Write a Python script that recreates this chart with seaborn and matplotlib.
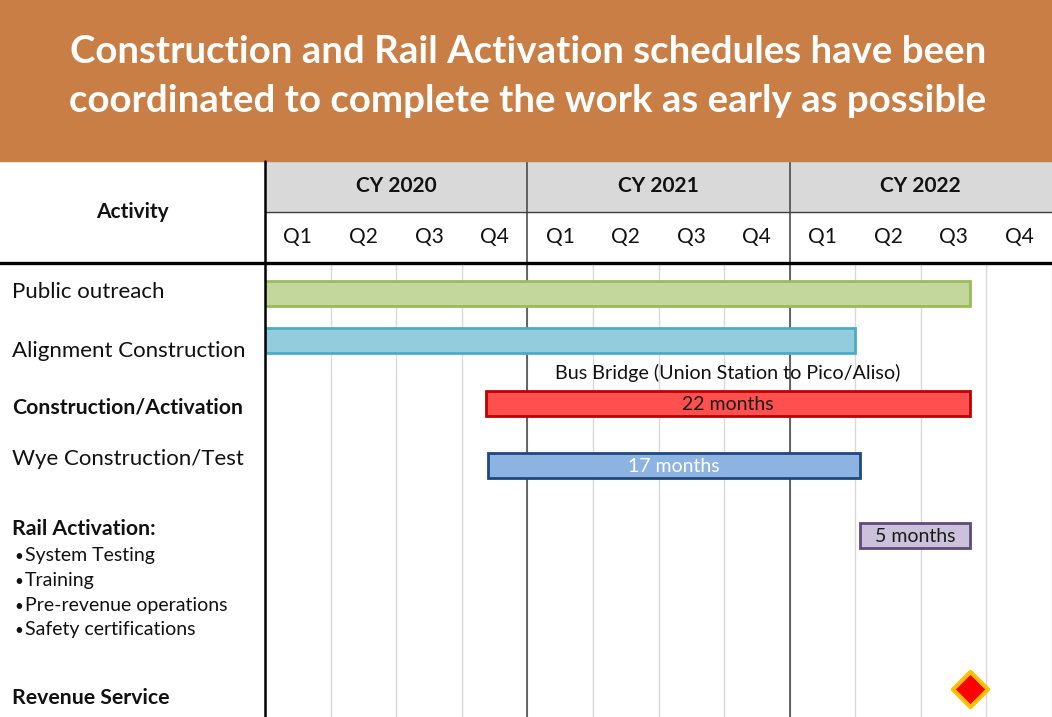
import matplotlib
matplotlib.use("Agg")
import matplotlib.pyplot as plt
import seaborn as sns
import pandas as pd

# ---- data -------------------------------------------------------------
title_lines = [
    "Construction and Rail Activation schedules have been",
    "coordinated to complete the work as early as possible",
]
years = ["CY 2020", "CY 2021", "CY 2022"]
quarters = ["Q1", "Q2", "Q3", "Q4"]

activities = [
    "Public outreach",
    "Alignment Construction",
    "Construction/Activation",
    "Wye Construction/Test",
    "Rail Activation:",
]
start_month = [0.0, 0.0, 10.1, 10.2, 27.2]
end_month = [32.25, 27.0, 32.25, 27.2, 32.25]
bar_labels = ["", "", "22 months", "17 months", "5 months"]
bus_note = "Bus Bridge (Union Station to Pico/Aliso)"
rail_bullets = ["System Testing", "Training", "Pre-revenue operations", "Safety certifications"]
milestone = "Revenue Service"
milestone_month = [32.25]

# ---- styling / layout ---------------------------------------------------
fills = ["#C3D69B", "#93CDDD", "#FF5050", "#8DB3E2", "#CCC1DA"]
edges = ["#9BBB59", "#4BACC6", "#C00000", "#1F497D", "#604A7B"]
label_colors = ["k", "k", "#1a1a1a", "white", "#1a1a1a"]
bold_rows = [False, False, True, False, True]
row_y = [293.5, 341, 403.5, 465.5, 536]      # bar centres, px from top
label_base = [298, 357, 413, 465, 535]      # label baselines, px from top
bullet_base = [561, 586, 611, 635]
milestone_y = 689
milestone_base = 704

W, H = 1052, 717
X0, HDR_TOP, HDR_MID, BODY_TOP = 265, 161, 212, 263
BANNER = "#C97E45"
FONT = ["Lato", "DejaVu Sans"]


def fx(x):
    return x / W


def fy(y):
    return 1 - y / H


sns.set_theme(style="white")
plt.rcParams["font.family"] = FONT

fig = plt.figure(figsize=(W / 100, H / 100), dpi=100)

# banner
fig.patches.append(plt.Rectangle((0, fy(HDR_TOP)), 1, 1 - fy(HDR_TOP),
                                 transform=fig.transFigure, color=BANNER, zorder=0))
for line, base in zip(title_lines, [63, 112]):
    fig.text(fx(528), fy(base), line, ha="center", va="baseline", color="white",
             fontsize=27.6, fontweight="bold")

# header axes (years + quarters)
hdr = fig.add_axes([fx(X0), fy(BODY_TOP), 1 - fx(X0), fy(HDR_TOP) - fy(BODY_TOP)])
hdr.set_xlim(0, 36)
hdr.set_ylim(1, 0)
hdr.axis("off")
mid = (HDR_MID - HDR_TOP) / (BODY_TOP - HDR_TOP)
hdr.axhspan(0, mid, color="#D9D9D9", zorder=0)
hdr.axhline(mid, color="#404040", lw=1.0)
for i, yr in enumerate(years):
    hdr.text(12 * i + 6, mid / 2, yr, ha="center", va="center",
             fontsize=15, fontweight="bold", color="#111111")
    for j, q in enumerate(quarters):
        hdr.text(12 * i + 3 * j + 1.5, (1 + mid) / 2, q, ha="center", va="center",
                 fontsize=15, color="#111111")
for m in (12, 24):
    hdr.axvline(m, color="#404040", lw=1.1)

fig.text(fx(132), fy(212), "Activity", ha="center", va="center",
         fontsize=15, fontweight="bold", color="#111111")

# body axes
ax = fig.add_axes([fx(X0), 0, 1 - fx(X0), fy(BODY_TOP)])
ax.set_xlim(0, 36)
ax.set_ylim(H, BODY_TOP)
for s in ax.spines.values():
    s.set_visible(False)
ax.set_xticks(range(0, 37, 3))
ax.set_yticks([])
ax.tick_params(axis="x", length=0, labelbottom=False)
ax.grid(axis="x", color="#D9D9D9", lw=1.0)
ax.set_axisbelow(True)
for m in (12, 24):
    ax.axvline(m, color="#404040", lw=1.1, zorder=1)

df = pd.DataFrame({"activity": activities, "start": start_month, "end": end_month,
                   "label": bar_labels})
df["dur"] = df["end"] - df["start"]
ax.barh(row_y, df["dur"], left=df["start"], height=25, color=fills,
        edgecolor=edges, linewidth=2.0, zorder=3)
for y, (_, r), c in zip(row_y, df.iterrows(), label_colors):
    if r["label"]:
        ax.text(r["start"] + r["dur"] / 2, y + 1, r["label"], ha="center", va="center",
                fontsize=14, color=c, zorder=4)
bus = df.iloc[2]
ax.text(bus["start"] + bus["dur"] / 2, row_y[2] - 21, bus_note, ha="center",
        va="bottom", fontsize=14.2, color="#111111", zorder=4)

ms = pd.DataFrame({"month": milestone_month, "y": [milestone_y]})
sns.scatterplot(data=ms, x="month", y="y", marker="D", s=320, color="#FF0000",
                edgecolor="#FFC000", linewidth=3, ax=ax, zorder=5, legend=False)
ax.set_xlabel("")
ax.set_ylabel("")

# left labels
for name, base, b in zip(activities, label_base, bold_rows):
    fig.text(fx(12), fy(base), name, ha="left", va="baseline",
             fontsize=15.3 if b else 16,
             fontweight="bold" if b else "normal", color="#111111")
for item, base in zip(rail_bullets, bullet_base):
    fig.text(fx(14), fy(base), "\u2022", ha="left", va="baseline", fontsize=11, color="#111111")
    fig.text(fx(25), fy(base), item, ha="left", va="baseline", fontsize=14, color="#111111")
fig.text(fx(12), fy(milestone_base), milestone, ha="left", va="baseline", fontsize=15.3,
         fontweight="bold", color="#111111")

# frame lines
fig.add_artist(plt.Line2D([0, 1], [fy(BODY_TOP)] * 2, transform=fig.transFigure,
                          color="black", lw=2.4, zorder=10))
fig.add_artist(plt.Line2D([fx(X0)] * 2, [0, fy(HDR_TOP)], transform=fig.transFigure,
                          color="black", lw=1.8, zorder=10))

fig.savefig("out.png", dpi=100, facecolor="white")
